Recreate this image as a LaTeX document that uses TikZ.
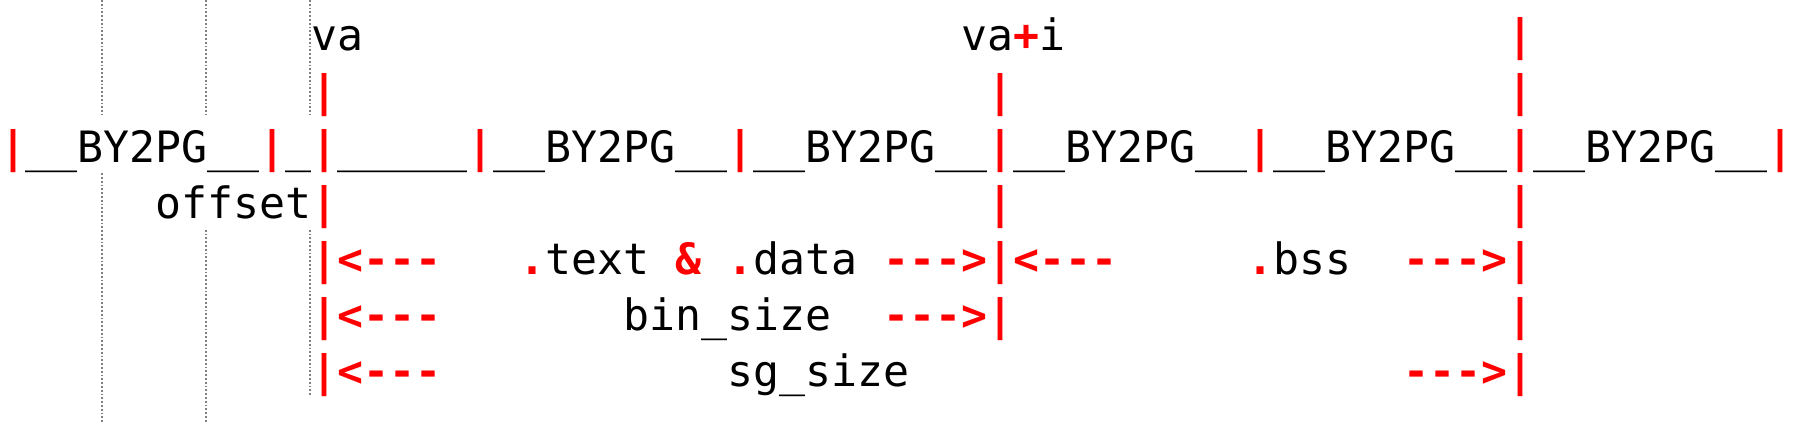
\documentclass[tikz,border=0pt]{standalone}
\usepackage{fontspec}
\setmonofont{DejaVu Sans Mono}

\begin{document}
\begin{tikzpicture}[x=26pt, y=-56pt,
  every node/.style = {inner sep=0, outer sep=0, anchor=base west,
    font=\ttfamily\fontsize{43.19pt}{56pt}\selectfont},
  redmark/.style = {text=red,
    font=\ttfamily\bfseries\fontsize{43.19pt}{56pt}\selectfont},
  guide/.style = {gray, dotted, line width=1.8pt}]
    \useasboundingbox (0,0.107) rectangle (69.04,7.66);
    \draw[guide] (3.92,0.107) -- (3.92,2.16) (3.92,3.2) -- (3.92,7.66);
    \draw[guide] (7.92,0.107) -- (7.92,2.16) (7.92,4.21) -- (7.92,7.66);
    \draw[guide] (11.92,0.107) -- (11.92,2.16) (11.92,4.21) -- (11.92,7.16);
    \foreach \c/\r in {58/1, 12/2, 38/2, 58/2,
        0/3, 10/3, 12/3, 18/3, 28/3, 38/3, 48/3, 58/3, 68/3,
        12/4, 38/4, 58/4, 12/5, 38/5, 58/5, 12/6, 38/6, 58/6, 12/7, 58/7}
      \node[redmark] (bar\c-\r) at (\c,\r) {|};
    \node (va) at (12,1) {va};
    \node (vai) at (37,1) {va};
    \node[redmark] (plus) at (39,1) {+};
    \node (i) at (40,1) {i};
    \foreach \c in {1,19,29,39,49,59}
      \node (pg\c) at (\c,3) {\_\_BY2PG\_\_};
    \node (gap) at (11,3) {\_};
    \node (first) at (13,3) {\_\_\_\_\_};
    \node (offset) at (6,4) {offset};
    \foreach \c/\r in {13/5, 13/6, 13/7, 39/5}
      \node[redmark] (left\c-\r) at (\c,\r) {<---};
    \foreach \c/\r in {34/5, 34/6, 54/5, 54/7}
      \node[redmark] (right\c-\r) at (\c,\r) {--->};
    \node[redmark] (dot1) at (20,5) {.};
    \node (text) at (21,5) {text};
    \node[redmark] (amp) at (26,5) {\&};
    \node[redmark] (dot2) at (28,5) {.};
    \node (data) at (29,5) {data};
    \node[redmark] (dot3) at (48,5) {.};
    \node (bss) at (49,5) {bss};
    \node (binsize) at (24,6) {bin\_size};
    \node (sgsize) at (28,7) {sg\_size};
\end{tikzpicture}
\end{document}
